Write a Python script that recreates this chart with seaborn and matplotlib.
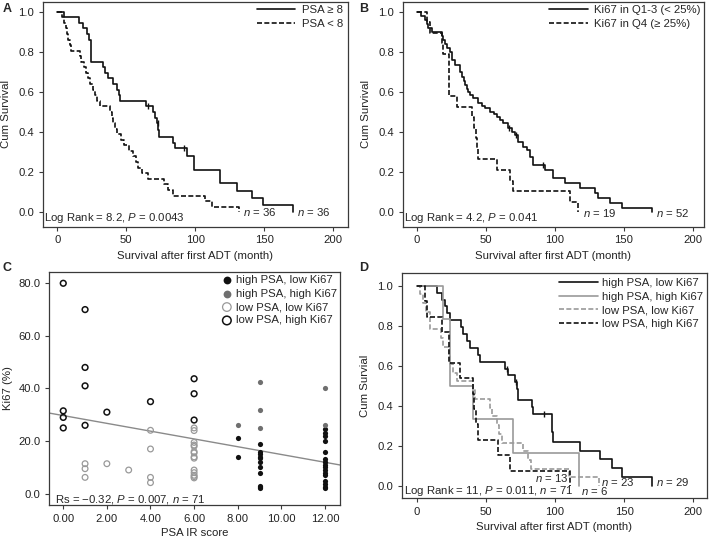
import numpy as np
import pandas as pd
import matplotlib
matplotlib.use("Agg")
import matplotlib.pyplot as plt
import seaborn as sns

# ---------------- data ----------------
# Panel A: PSA >= 8 (solid) and PSA < 8 (dashed); event times (months) and survival after each step
a_hi_t = [5, 15.9, 18.9, 21.3, 23.2, 24.2, 32.9, 34.6, 37, 40.6, 43, 44.5, 45.4, 64.3, 69.6, 71, 72.3,
          73.3, 74, 84.1, 85.3, 93.7, 98.8, 117.9, 130, 140.9, 149.3, 170.6]
a_hi_s = [0.972, 0.944, 0.917, 0.889, 0.861, 0.75, 0.722, 0.694, 0.667, 0.639, 0.611, 0.583, 0.556, 0.528,
          0.5, 0.472, 0.444, 0.41, 0.375, 0.347, 0.319, 0.278, 0.21, 0.145, 0.104, 0.07, 0.035, 0.0]
a_hi_cens_t = [66, 72.9, 91.8]
a_hi_cens_s = [0.528, 0.444, 0.319]
a_lo_t = [3.5, 5, 6, 7, 8, 9, 10, 16.5, 17.5, 19, 20.5, 22, 24, 25.5, 27, 29, 31, 38.5, 39.5, 40.5, 42,
          43.5, 46, 48, 52, 55, 57, 58.5, 61, 66, 77, 80, 84, 107, 111.8, 131.9]
a_lo_s = [0.972, 0.944, 0.917, 0.889, 0.861, 0.833, 0.806, 0.778, 0.75, 0.722, 0.694, 0.667, 0.639, 0.611,
          0.583, 0.556, 0.528, 0.5, 0.472, 0.444, 0.417, 0.389, 0.361, 0.333, 0.306, 0.278, 0.25, 0.222,
          0.194, 0.167, 0.139, 0.111, 0.083, 0.056, 0.028, 0.0]

# Panel B: Ki67 in Q1-3 (solid) and Q4 (dashed)
b_lo_t = [3.5, 6, 7.5, 8.4, 10.9, 18.1, 19.3, 20.3, 21.7, 24.1, 25.4, 27.8, 31.4, 32.6, 34, 35, 36.2, 37.4,
          39, 41, 44.6, 47, 49.5, 53.1, 56, 58, 60.5, 62.8, 66.4, 69, 71.2, 73.6, 77.2, 79.7, 82.1, 84.5, 93,
          99, 107.5, 118.3, 129.2, 131.6, 140, 148.5, 170.3]
b_lo_s = [0.98, 0.96, 0.94, 0.92, 0.90, 0.88, 0.86, 0.84, 0.82, 0.80, 0.76, 0.735, 0.70, 0.675, 0.655, 0.635,
          0.615, 0.60, 0.585, 0.568, 0.543, 0.53, 0.518, 0.50, 0.49, 0.477, 0.46, 0.444, 0.419, 0.40, 0.385,
          0.352, 0.327, 0.31, 0.277, 0.236, 0.211, 0.17, 0.145, 0.12, 0.095, 0.07, 0.045, 0.02, 0.0]
b_lo_cens_t = [67, 71.7, 91.5]
b_lo_cens_s = [0.419, 0.385, 0.236]
b_hi_t = [7.7, 9.7, 18.1, 19.3, 23.6, 29.5, 40, 41.5, 43, 44, 44.7, 58.4, 67.5, 69.8, 111.3, 117.2]
b_hi_s = [0.947, 0.895, 0.842, 0.789, 0.579, 0.526, 0.474, 0.421, 0.368, 0.316, 0.263, 0.211, 0.158,
          0.105, 0.053, 0.0]

# Panel C: PSA IR score vs Ki67 (%)
c_hpl_x = [8, 8] + [9] * 11 + [12] * 16
c_hpl_y = [21, 14, 19, 16, 15, 14, 13.5, 12, 10, 8, 3, 2.5, 2,
           24.5, 23, 22, 20, 16, 13, 12, 11, 10, 9, 8, 7, 5, 3.5, 2.5, 2]
c_hph_x = [8, 9, 9, 9, 12, 12]
c_hph_y = [26, 42.5, 32, 25, 40, 26]
c_lpl_x = [1, 1, 1, 2, 3, 4, 4, 4, 4] + [6] * 14
c_lpl_y = [11.4, 9.5, 6.2, 11.4, 9.0, 24.1, 17, 6.2, 4.2,
           25, 24, 19.5, 18.5, 18, 16, 15.5, 14, 13.5, 9, 8, 7, 6.5, 6]
c_lph_x = [0, 0, 0, 0, 1, 1, 1, 1, 2, 4, 6, 6, 6]
c_lph_y = [80, 31.5, 29, 25, 70, 48, 41, 26, 31, 35, 43.7, 38, 28]
c_fit_intercept = 29.7
c_fit_slope = -1.48

# Panel D: four groups
d_hpl_t = [15, 18.5, 20.4, 21.7, 24.1, 31.8, 33.7, 36.2, 38.6, 44.6, 45.8, 63.9, 66.3, 71.1, 72.3, 73.5,
           83.2, 84.4, 97.6, 98.8, 118, 132.5, 141, 148.2, 170]
d_hpl_s = [0.966, 0.931, 0.897, 0.862, 0.828, 0.793, 0.759, 0.724, 0.69, 0.655, 0.621, 0.586, 0.552, 0.517,
           0.483, 0.431, 0.397, 0.362, 0.27, 0.221, 0.177, 0.133, 0.088, 0.044, 0.0]
d_hpl_cens_t = [65, 71.5, 92]
d_hpl_cens_s = [0.586, 0.517, 0.362]
d_hph_t = [19.3, 24.1, 41, 69.9, 117]
d_hph_s = [0.833, 0.5, 0.333, 0.167, 0.0]
d_lpl_t = [2.4, 4.8, 6.5, 9.6, 17.5, 19.3, 23.5, 24.2, 26.5, 28.9, 40.5, 42.2, 53, 54.2, 57.8, 59.5, 61.4,
           77, 80.7, 83, 110, 132]
d_lpl_s = [0.957, 0.913, 0.87, 0.783, 0.739, 0.696, 0.652, 0.609, 0.565, 0.522, 0.478, 0.435, 0.391, 0.348,
           0.304, 0.261, 0.217, 0.174, 0.13, 0.087, 0.043, 0.0]
d_lph_t = [6, 7.5, 18, 23.6, 31.3, 40.5, 41.4, 43, 44.6, 58.5, 67.5, 110.8]
d_lph_s = [0.923, 0.846, 0.769, 0.615, 0.538, 0.462, 0.385, 0.308, 0.231, 0.154, 0.077, 0.0]

km_ticks_x = [0, 50, 100, 150, 200]
km_ticks_y = [0.0, 0.2, 0.4, 0.6, 0.8, 1.0]
c_ticks_x = [0, 2, 4, 6, 8, 10, 12]
c_ticks_y = [0, 20, 40, 60, 80]

# ---------------- style ----------------
sns.set_theme(style="ticks")
plt.rcParams.update({
    "font.family": ["Liberation Sans", "DejaVu Sans"],
    "font.size": 8.2,
    "mathtext.fontset": "custom",
    "mathtext.rm": "Liberation Sans",
    "mathtext.it": "Liberation Sans:italic",
    "axes.edgecolor": "#3a3a3a",
    "axes.linewidth": 0.9,
    "axes.labelsize": 8.2,
    "axes.labelcolor": "#222222",
    "xtick.labelsize": 8.1,
    "ytick.labelsize": 8.1,
    "xtick.color": "#3a3a3a",
    "ytick.color": "#3a3a3a",
    "xtick.labelcolor": "#222222",
    "ytick.labelcolor": "#222222",
    "xtick.major.size": 3.2,
    "ytick.major.size": 3.2,
    "xtick.major.width": 0.8,
    "ytick.major.width": 0.8,
    "xtick.major.pad": 3,
    "ytick.major.pad": 3,
})

BLACK = "#111111"
GRAY = "#9a9a9a"
DASH = (0, (3.0, 1.4))

fig = plt.figure(figsize=(7.09, 5.41), dpi=100)
W, H = 709.0, 541.0


def rect(l, r, t, b):
    return [l / W, 1 - b / H, (r - l) / W, (b - t) / H]


axA = fig.add_axes(rect(42.7, 348, 2, 226.7))
axB = fig.add_axes(rect(402.7, 704, 2, 226.7))
axC = fig.add_axes(rect(49.3, 340, 271.7, 505))
axD = fig.add_axes(rect(401.7, 706.5, 272.7, 498.3))


def km(ax, t, s, color, ls, label, lw=1.2):
    xs = [0.0] + list(t)
    ys = [1.0] + list(s)
    sns.lineplot(x=xs, y=ys, ax=ax, drawstyle="steps-post", estimator=None, errorbar=None,
                 sort=False, color=color, linestyle=ls, linewidth=lw, label=label)


def cens(ax, t, s, color):
    ax.plot(t, s, ls="none", marker="|", ms=5, mew=1.0, color=color)


def km_axes(ax, xlim, ylim, ylabel):
    ax.set_xlim(*xlim)
    ax.set_ylim(*ylim)
    ax.set_xticks(km_ticks_x)
    ax.set_yticks(km_ticks_y)
    ax.set_yticklabels([f"{v:.1f}" for v in km_ticks_y])
    ax.set_xlabel("Survival after first ADT (month)", labelpad=4)
    ax.set_ylabel(ylabel, labelpad=5)
    for sp in ax.spines.values():
        sp.set_visible(True)


# ----- Panel A -----
km(axA, a_hi_t, a_hi_s, BLACK, "-", "PSA \u2265 8")
km(axA, a_lo_t, a_lo_s, BLACK, DASH, "PSA < 8")
cens(axA, a_hi_cens_t, a_hi_cens_s, BLACK)
km_axes(axA, (-10.6, 210.6), (-0.072, 1.048), "Cum Survival")
axA.legend(loc="upper right", bbox_to_anchor=(0.985, 0.985), frameon=False, borderpad=0,
           borderaxespad=0, handlelength=3.4, handletextpad=0.6, labelspacing=0.3, fontsize=8.2)
axA.text(0.005, 0.037, "Log Rank = 8.2, $P$ = 0.0043", transform=axA.transAxes, va="center", ha="left")
axA.text(134.3, 0.0, "$n$ = 36", va="center", ha="left")
axA.text(173.5, 0.0, "$n$ = 36", va="center", ha="left")

# ----- Panel B -----
km(axB, b_lo_t, b_lo_s, BLACK, "-", "Ki67 in Q1-3 (< 25%)")
km(axB, b_hi_t, b_hi_s, BLACK, DASH, "Ki67 in Q4 (\u2265 25%)")
cens(axB, b_lo_cens_t, b_lo_cens_s, BLACK)
km_axes(axB, (-10.1, 208.2), (-0.072, 1.048), "Cum Survival")
axB.legend(loc="upper right", bbox_to_anchor=(0.99, 0.985), frameon=False, borderpad=0,
           borderaxespad=0, handlelength=3.4, handletextpad=0.6, labelspacing=0.3, fontsize=8.2)
axB.text(0.005, 0.037, "Log Rank = 4.2, $P$ = 0.041", transform=axB.transAxes, va="center", ha="left")
axB.text(120.7, -0.005, "$n$ = 19", va="center", ha="left")
axB.text(173.4, -0.005, "$n$ = 52", va="center", ha="left")

# ----- Panel C -----
groups = [
    (c_hpl_x, c_hpl_y, "high PSA, low Ki67", dict(color=BLACK, edgecolor=BLACK, s=14, linewidth=0)),
    (c_hph_x, c_hph_y, "high PSA, high Ki67", dict(color="#6f6f6f", edgecolor="#6f6f6f", s=14, linewidth=0)),
    (c_lpl_x, c_lpl_y, "low PSA, low Ki67", dict(facecolor="none", edgecolor="#999999", s=17, linewidth=0.9)),
    (c_lph_x, c_lph_y, "low PSA, high Ki67", dict(facecolor="none", edgecolor=BLACK, s=17, linewidth=1.1)),
]
for gx, gy, lab, kw in groups:
    sns.scatterplot(x=gx, y=gy, ax=axC, label=lab, zorder=3, **kw)
axC.axline((0, c_fit_intercept), slope=c_fit_slope, color="#8a8a8a", lw=1.0, zorder=2)
axC.set_xlim(-0.64, 12.69)
axC.set_ylim(-4.3, 84.4)
axC.set_xticks(c_ticks_x)
axC.set_xticklabels([f"{v:.2f}" for v in c_ticks_x])
axC.set_yticks(c_ticks_y)
axC.set_yticklabels([f"{v:.1f}" for v in c_ticks_y])
axC.set_xlabel("PSA IR score", labelpad=3)
axC.set_ylabel("Ki67 (%)", labelpad=4)
for sp in axC.spines.values():
    sp.set_visible(True)
axC.legend(loc="upper right", bbox_to_anchor=(0.99, 0.985), frameon=False, borderpad=0,
           borderaxespad=0, handlelength=1.0, handletextpad=0.3, labelspacing=0.3, markerscale=1.5,
           fontsize=8.2)
axC.text(0.02, 0.024, "Rs = \u22120.32, $P$ = 0.007, $n$ = 71", transform=axC.transAxes,
         va="center", ha="left")

# ----- Panel D -----
km(axD, d_hpl_t, d_hpl_s, BLACK, "-", "high PSA, low Ki67")
km(axD, d_hph_t, d_hph_s, GRAY, "-", "high PSA, high Ki67")
km(axD, d_lpl_t, d_lpl_s, GRAY, DASH, "low PSA, low Ki67")
km(axD, d_lph_t, d_lph_s, BLACK, DASH, "low PSA, high Ki67")
cens(axD, d_hpl_cens_t, d_hpl_cens_s, BLACK)
km_axes(axD, (-10.8, 209.5), (-0.061, 1.065), "Cum Survial")
axD.legend(loc="upper right", bbox_to_anchor=(0.99, 0.975), frameon=False, borderpad=0,
           borderaxespad=0, handlelength=3.4, handletextpad=0.4, labelspacing=0.3, fontsize=8.2)
axD.text(0.0075, 0.032, "Log Rank = 11, $P$ = 0.011, $n$ = 71", transform=axD.transAxes,
         va="center", ha="left")
axD.text(85.5, 0.042, "$n$ = 13", va="center", ha="left")
axD.text(133, 0.02, "$n$ = 23", va="center", ha="left")
axD.text(173, 0.02, "$n$ = 29", va="center", ha="left")
axD.text(119, -0.025, "$n$ = 6", va="center", ha="left")

# panel letters
for letter, x, y in [("A", 7, 9), ("B", 364, 9), ("C", 7, 268), ("D", 364, 268)]:
    fig.text(x / W, 1 - y / H, letter, fontsize=9, fontweight="bold", ha="center", va="center")

fig.savefig("out.png", dpi=100, facecolor="white")
